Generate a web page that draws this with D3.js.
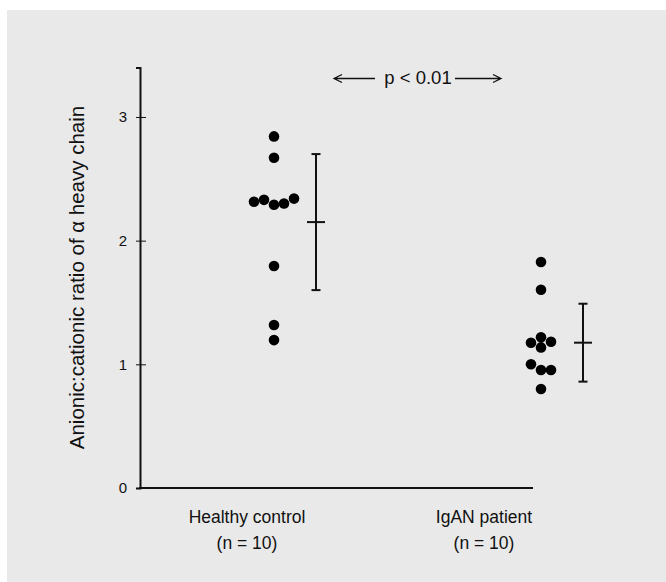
<!DOCTYPE html>
<html lang="en">
<head>
    <meta charset="UTF-8">
    <title>Anionic:cationic ratio</title>
    <style>
        body {
            margin: 0;
            background: #ffffff;
            font-family: "Liberation Sans", Arial, sans-serif;
        }
        svg text {
            fill: #111;
        }
    </style>
</head>
<body>
<svg id="chart" width="666" height="582"></svg>
<script src="https://cdnjs.cloudflare.com/ajax/libs/d3/7.8.5/d3.min.js"></script>
<script>
    // Data
    const groups = ["Healthy control", "IgAN patient"];
    const groupCounts = ["(n = 10)", "(n = 10)"];
    const healthyValues = [2.843, 2.67, 2.29, 2.33, 2.30, 2.315, 2.34, 1.795, 1.318, 1.196];
    const iganValues = [1.827, 1.603, 1.218, 1.137, 1.175, 1.183, 0.954, 1.0, 0.954, 0.80];
    const groupMeans = [2.15, 1.175];
    const groupSDs = [0.55, 0.315];
    const yTicks = [0, 1, 2, 3];
    const yLabel = "Anionic:cationic ratio of \u03b1 heavy chain";
    const pLabel = "p < 0.01";

    const svg = d3.select("#chart");

    // grey panel
    svg.append("rect")
        .attr("x", 7).attr("y", 10)
        .attr("width", 666).attr("height", 582)
        .attr("fill", "#e9e9e9");

    // Scales
    const y = d3.scaleLinear().domain([0, 3.4]).range([488, 67.5]);
    const x = d3.scalePoint().domain(groups).range([274, 541]);
    const xLabel = d3.scalePoint().domain(groups).range([247, 484]);
    const axisLeft = 140, axisRight = 533;

    // Axes
    const yAxis = svg.append("g")
        .attr("transform", "translate(" + axisLeft + ",0)")
        .call(d3.axisLeft(y).tickValues(yTicks).tickFormat(d3.format("d"))
            .tickSizeOuter(0).tickSize(4).tickPadding(9));
    yAxis.select(".domain").attr("stroke", "#111").attr("stroke-width", 2);
    yAxis.selectAll(".tick line").attr("x1", -4).attr("x2", 6).attr("stroke", "#111").attr("stroke-width", 1);
    yAxis.selectAll(".tick text")
        .style("font-family", "'Liberation Sans', Arial, sans-serif")
        .style("font-size", "15px")
        .attr("fill", "#111");

    svg.append("line")
        .attr("x1", axisLeft - 1).attr("x2", axisRight)
        .attr("y1", y(0)).attr("y2", y(0))
        .attr("stroke", "#111").attr("stroke-width", 2);

    // y axis title
    svg.append("text")
        .attr("transform", "translate(84,277.5) rotate(-90)")
        .attr("text-anchor", "middle")
        .style("font-size", "20.5px")
        .text(yLabel);

    // category labels
    groups.forEach((g, i) => {
        const t = svg.append("text")
            .attr("x", xLabel(g))
            .attr("y", 523)
            .attr("text-anchor", "middle")
            .style("font-size", "17.5px");
        t.append("tspan").attr("x", xLabel(g)).text(g);
        t.append("tspan").attr("x", xLabel(g)).attr("dy", 25.5).text(groupCounts[i]);
    });

    // simple greedy beeswarm: try offsets 0, -s, +s, -2s, +2s ...
    const r = 5.3, step = 10, minDist = 9.5;
    function swarm(values) {
        const placed = [];
        values.forEach(v => {
            const py = y(v);
            for (let k = 0; k < 20; k++) {
                const slot = k === 0 ? 0 : (k % 2 ? -Math.ceil(k / 2) : Math.ceil(k / 2));
                const px = slot * step;
                const hit = placed.some(p => Math.hypot(p.dx - px, p.y - py) < minDist);
                if (!hit) { placed.push({dx: px, y: py, v: v}); break; }
            }
        });
        return placed;
    }

    [healthyValues, iganValues].forEach((vals, i) => {
        const cx = x(groups[i]);
        svg.append("g").selectAll("circle")
            .data(swarm(vals))
            .enter()
            .append("circle")
            .attr("cx", d => cx + d.dx)
            .attr("cy", d => d.y)
            .attr("r", r)
            .attr("fill", "#000");

        // mean +/- SD bar
        const ex = cx + 42;
        const g = svg.append("g").attr("stroke", "#111").attr("stroke-width", 2);
        const top = y(groupMeans[i] + groupSDs[i]);
        const bot = y(groupMeans[i] - groupSDs[i]);
        g.append("line").attr("x1", ex).attr("x2", ex).attr("y1", top).attr("y2", bot);
        g.append("line").attr("x1", ex - 4.5).attr("x2", ex + 4.5).attr("y1", top).attr("y2", top);
        g.append("line").attr("x1", ex - 4.5).attr("x2", ex + 4.5).attr("y1", bot).attr("y2", bot);
        g.append("line").attr("x1", ex - 9).attr("x2", ex + 9)
            .attr("y1", y(groupMeans[i])).attr("y2", y(groupMeans[i]));
    });

    // significance annotation
    const ay = 78.5;
    const ann = svg.append("g");
    ann.append("text")
        .attr("x", 418).attr("y", ay + 5.5)
        .attr("text-anchor", "middle")
        .style("font-size", "18.5px")
        .text(pLabel);
    const arrow = d3.line();
    ann.append("path")
        .attr("d", arrow([[375, ay], [334, ay]]) + arrow([[342, ay - 4], [334, ay], [342, ay + 4]]))
        .attr("fill", "none").attr("stroke", "#111").attr("stroke-width", 1.3);
    ann.append("path")
        .attr("d", arrow([[455, ay], [501, ay]]) + arrow([[493, ay - 4], [501, ay], [493, ay + 4]]))
        .attr("fill", "none").attr("stroke", "#111").attr("stroke-width", 1.3);
</script>
</body>
</html>
